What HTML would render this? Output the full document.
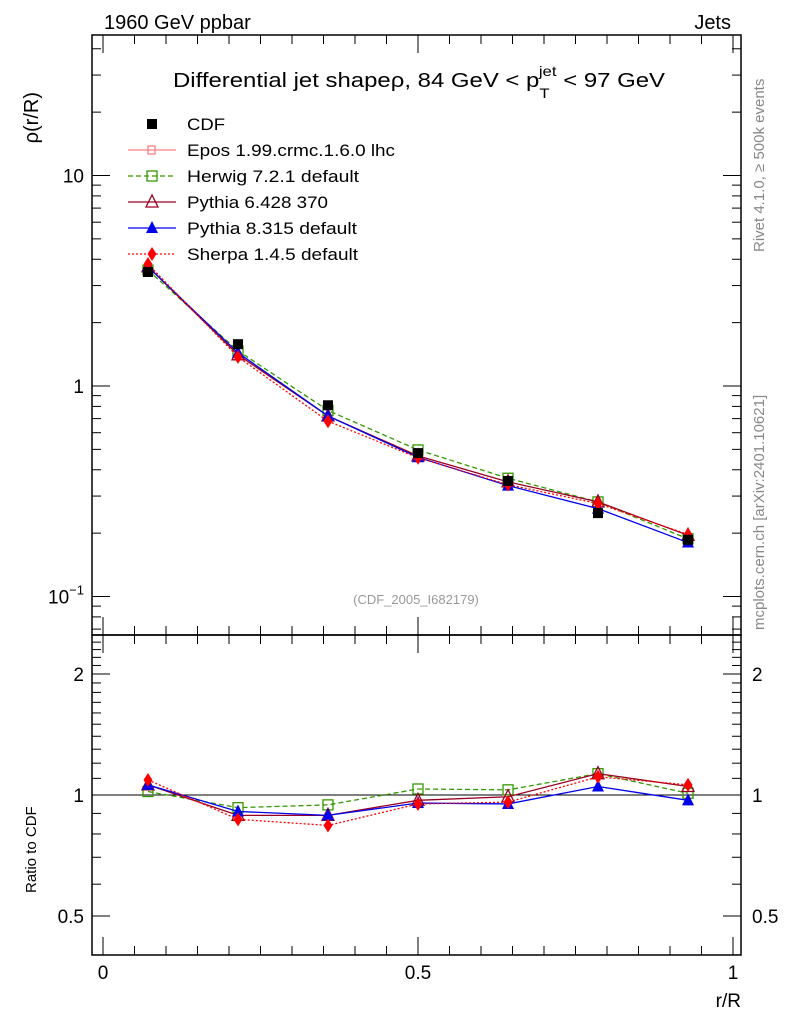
<!DOCTYPE html>
<html><head><meta charset="utf-8"><style>
body{margin:0;background:#fff;font-family:"Liberation Sans",sans-serif}
svg text{font-family:"Liberation Sans",sans-serif}
</style></head><body>
<svg id="c" width="786" height="1024" xmlns="http://www.w3.org/2000/svg">
<text x="104" y="29" font-size="20">1960 GeV ppbar</text>
<text x="731" y="29" font-size="20" text-anchor="end">Jets</text>
<text x="173" y="87" font-size="20" textLength="492" lengthAdjust="spacingAndGlyphs">Differential jet shapeρ, 84 GeV &lt; p<tspan font-size="14" dy="11">T</tspan><tspan font-size="14" dx="-9" dy="-22">jet</tspan><tspan dy="11"> &lt; 97 GeV</tspan></text>
<text transform="translate(764,252) rotate(-90)" font-size="15" fill="#888">Rivet 4.1.0, ≥ 500k events</text>
<text transform="translate(764,630) rotate(-90)" font-size="15" fill="#888">mcplots.cern.ch [arXiv:2401.10621]</text>
<text x="416" y="604" font-size="13" fill="#999" text-anchor="middle">(CDF_2005_I682179)</text>
<text transform="translate(38,92) rotate(-90)" font-size="20" text-anchor="end">ρ(r/R)</text>
<text transform="translate(36,893) rotate(-90)" font-size="15">Ratio to CDF</text>
<text x="741" y="1007" font-size="19" text-anchor="end">r/R</text>
<g id="axes"></g><g id="marks"></g><g id="legend"></g>
</svg>
<script>
const xCenters=[0.0714,0.2143,0.3571,0.5,0.6429,0.7857,0.9286];
const cdfValues=[3.48,1.58,0.81,0.48,0.354,0.249,0.186];
const herwigRatio=[1.02,0.93,0.945,1.035,1.03,1.13,1.01];
const pythia6Ratio=[1.06,0.89,0.89,0.97,0.99,1.13,1.05];
const pythia8Ratio=[1.06,0.91,0.89,0.955,0.95,1.05,0.97];
const sherpaRatio=[1.09,0.87,0.84,0.95,0.96,1.11,1.06];
const mainTicks=["10","1"];
const ratioTicks=[2,1,0.5];
const xTicks=[0,0.5,1];

const NS="http://www.w3.org/2000/svg";
const L=92,R=741,T=35,M=635,B=955;
const X=v=>103+630*v;
const Y=v=>386-210.5*Math.log10(v);
const YR=v=>795-402*Math.log10(v);
function mk(p,tag,at){const e=document.createElementNS(NS,tag);for(const k in at)e.setAttribute(k,at[k]);p.appendChild(e);return e;}
const ax=document.getElementById('axes'),mg=document.getElementById('marks'),lg=document.getElementById('legend');
let f=mk(ax,'rect',{x:L,y:T,width:R-L,height:M-T,fill:'none',stroke:'#000','stroke-width':1.5});

f=mk(ax,'rect',{x:L,y:M,width:R-L,height:B-M,fill:'none',stroke:'#000','stroke-width':1.5});

for(let d=-2;d<=1;d++)for(let m=1;m<10;m++){const v=m*Math.pow(10,d);const y=Y(v);if(y<T||y>M)continue;const len=m==1?18:9;
mk(ax,'line',{x1:L,x2:L+len,y1:y,y2:y,stroke:'#000'});mk(ax,'line',{x1:R,x2:R-len,y1:y,y2:y,stroke:'#000'});}
let t=mk(ax,'text',{x:84,y:Y(10)+7,'font-size':19,'text-anchor':'end'});t.textContent=mainTicks[0];

t=mk(ax,'text',{x:84,y:Y(1)+7,'font-size':19,'text-anchor':'end'});t.textContent=mainTicks[1];

t=mk(ax,'text',{x:84,y:Y(0.1)+7,'font-size':19,'text-anchor':'end'});t.innerHTML='10<tspan font-size="13" dy="-9">−1</tspan>';

for(let v=0.4;v<=2.5001;v+=0.1){const y=YR(v);if(y<M||y>B)continue;const maj=[0.5,1,2].some(q=>Math.abs(q-v)<1e-6);const len=maj?18:9;
mk(ax,'line',{x1:L,x2:L+len,y1:y,y2:y,stroke:'#000'});mk(ax,'line',{x1:R,x2:R-len,y1:y,y2:y,stroke:'#000'});}
ratioTicks.forEach(v=>{let a=mk(ax,'text',{x:84,y:YR(v)+7,'font-size':19,'text-anchor':'end'});a.textContent=String(v);

a=mk(ax,'text',{x:752,y:YR(v)+7,'font-size':19});a.textContent=String(v);
});
mk(ax,'line',{x1:L,x2:R,y1:YR(1),y2:YR(1),stroke:'#000'});
for(let i=0;i<=20;i++){const v=i*0.05;const x=X(v);const len=i%10==0?18:9;
[T,M].forEach(y0=>mk(ax,'line',{x1:x,x2:x,y1:y0,y2:y0+len,stroke:'#000'}));
[M,B].forEach(y0=>mk(ax,'line',{x1:x,x2:x,y1:y0,y2:y0-len,stroke:'#000'}));}
xTicks.forEach(v=>{const a=mk(ax,'text',{x:X(v),y:979,'font-size':19,'text-anchor':'middle'});a.textContent=String(v);
});

const series=[
 {n:'herwig',r:herwigRatio,c:'#339900',dash:'5,3',m:'sq'},
 {n:'pythia6',r:pythia6Ratio,c:'#990022',dash:'',m:'tri-open'},
 {n:'pythia8',r:pythia8Ratio,c:'#0000ee',dash:'',m:'tri'},
 {n:'sherpa',r:sherpaRatio,c:'#ff0000',dash:'2,2',m:'dia'}];
function marker(p,type,x,y,c){let e;
 if(type=='sq')e=mk(p,'rect',{x:x-5,y:y-5,width:10,height:10,fill:'none',stroke:c,'stroke-width':1.3});
 else if(type=='sqf')e=mk(p,'rect',{x:x-5,y:y-5,width:10,height:10,fill:'#000'});
 else if(type=='tri-open')e=mk(p,'polygon',{points:`${x},${y-7} ${x-6},${y+5} ${x+6},${y+5}`,fill:'none',stroke:c,'stroke-width':1.3});
 else if(type=='tri')e=mk(p,'polygon',{points:`${x},${y-7} ${x-6},${y+5} ${x+6},${y+5}`,fill:c});
 else e=mk(p,'polygon',{points:`${x},${y-7} ${x-4.5},${y} ${x},${y+7} ${x+4.5},${y}`,fill:c});
 return e;}
series.forEach(s=>{
 const main=s.r.map((r,i)=>[X(xCenters[i]),Y(r*cdfValues[i])]);
 const rat=s.r.map((r,i)=>[X(xCenters[i]),YR(r)]);
 [main,rat].forEach((pts,k)=>{
  const l=mk(mg,'polyline',{points:pts.map(p=>p.join(',')).join(' '),fill:'none',stroke:s.c,'stroke-width':1.3,'stroke-dasharray':s.dash});
  
  pts.forEach(p=>{const e=marker(mg,s.m,p[0],p[1],s.c);
   });});
});
cdfValues.forEach((v,i)=>{const e=marker(mg,'sqf',X(xCenters[i]),Y(v));
 });
const leg=[['CDF','#000','','sqf',false,38],['Epos 1.99.crmc.1.6.0 lhc','#ff8080','','epos',true,208],['Herwig 7.2.1 default','#339900','5,3','sq',true,172],
['Pythia 6.428 370','#990022','','tri-open',true,141],['Pythia 8.315 default','#0000ee','','tri',true,170],['Sherpa 1.4.5 default','#ff0000','2,2','dia',true,171]];
leg.forEach((e,i)=>{const y=124+26*i;
 if(e[4]){const l=mk(lg,'line',{x1:128,x2:176,y1:y,y2:y,stroke:e[1],'stroke-width':1.3,'stroke-dasharray':e[2]});
  }
 let m;if(e[3]=='epos'){m=mk(lg,'rect',{x:148,y:y-4,width:7,height:8,fill:'none',stroke:e[1],'stroke-width':1.3});}
 else m=marker(lg,e[3],152,y,e[1]);
 
 const tx=mk(lg,'text',{x:187,y:y+6,'font-size':17,textLength:e[5],lengthAdjust:'spacingAndGlyphs'});tx.textContent=e[0];
 });
</script>
</body></html>
